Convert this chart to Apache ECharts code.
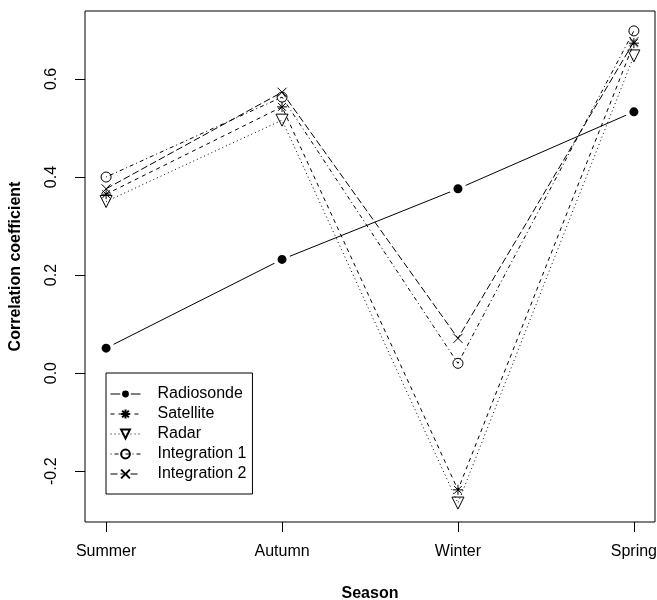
<!DOCTYPE html>
<html>
<head>
<meta charset="utf-8">
<script src="https://cdn.jsdelivr.net/npm/echarts@6/dist/echarts.min.js"></script>
<style>html,body{margin:0;padding:0;background:#fff}#c{width:657px;height:600px}</style>
</head>
<body>
<div id="c"></div>
<script>
const categories = ['Summer', 'Autumn', 'Winter', 'Spring'];
const radiosonde = [0.051, 0.232, 0.376, 0.533];
const satellite = [0.365, 0.543, -0.238, 0.673];
const radar = [0.350, 0.516, -0.265, 0.647];
const integration1 = [0.400, 0.563, 0.020, 0.698];
const integration2 = [0.376, 0.573, 0.071, 0.676];
const yTicks = [-0.2, 0.0, 0.2, 0.4, 0.6];
const xTicks = [1, 2, 3, 4];

const FONT = '"Liberation Sans", Arial, sans-serif';
function pts(arr) { return arr.map((v, i) => [i + 1, v]); }

const seriesDefs = [
  { name: 'Radiosonde', data: radiosonde, dash: 'solid', symbol: 'circle', size: 13, rotate: 0,
    item: { color: '#000', borderColor: '#fff', borderWidth: 4 } },
  { name: 'Satellite', data: satellite, dash: [4, 4], symbol: 'path://M0 0L10 10M10 0L0 10M5 -1.5L5 11.5M-1.5 5L11.5 5', size: 10, rotate: 0,
    item: { color: 'transparent', borderColor: '#000', borderWidth: 1 } },
  { name: 'Radar', data: radar, dash: [1, 3], symbol: 'triangle', size: 12, rotate: 180,
    item: { color: 'transparent', borderColor: '#000', borderWidth: 1 } },
  { name: 'Integration 1', data: integration1, dash: [1, 3, 4, 3], symbol: 'circle', size: 10, rotate: 0,
    item: { color: 'transparent', borderColor: '#000', borderWidth: 1 } },
  { name: 'Integration 2', data: integration2, dash: [7, 3], symbol: 'path://M0 0L10 10M10 0L0 10', size: 9, rotate: 0,
    item: { color: 'transparent', borderColor: '#000', borderWidth: 1 } }
];

const chart = echarts.init(document.getElementById('c'), null, { renderer: 'canvas' });
chart.setOption({
  animation: false,
  backgroundColor: '#fff',
  grid: { left: 85, right: 2, top: 11, bottom: 78, show: true, borderColor: '#000', borderWidth: 1, backgroundColor: 'transparent', containLabel: false, outerBoundsMode: 'none' },
  xAxis: {
    type: 'value', min: 0.88, max: 4.12,
    axisLine: { show: false, onZero: false },
    splitLine: { show: false },
    axisTick: { show: true, length: 10, inside: false, customValues: xTicks, lineStyle: { color: '#000', width: 1 } },
    axisLabel: { customValues: xTicks, formatter: v => categories[Math.round(v) - 1] || '', color: '#000', fontSize: 16, fontFamily: FONT, margin: 22, hideOverlap: false },
    name: 'Season', nameLocation: 'middle', nameGap: 64,
    nameTextStyle: { color: '#000', fontSize: 16, fontWeight: 'bold', fontFamily: FONT }
  },
  yAxis: {
    type: 'value', min: -0.3036, max: 0.7386,
    axisLine: { show: false, onZero: false },
    splitLine: { show: false },
    axisTick: { show: true, length: 10, inside: false, customValues: yTicks, lineStyle: { color: '#000', width: 1 } },
    axisLabel: { customValues: yTicks, rotate: 90, formatter: v => v.toFixed(1), color: '#000', fontSize: 16, fontFamily: FONT, margin: 25 },
    name: 'Correlation coefficient', nameLocation: 'middle', nameGap: 61, nameRotate: 90,
    nameTextStyle: { color: '#000', fontSize: 16, fontWeight: 'bold', fontFamily: FONT }
  },
  legend: {
    orient: 'vertical', left: 106, top: 373,
    padding: [13, 6, 12, 4],
    borderColor: '#000', borderWidth: 1, borderRadius: 0,
    backgroundColor: '#fff',
    itemWidth: 30, itemHeight: 11, itemGap: 4,
    lineStyle: { width: 1 },
    textStyle: { color: '#000', fontSize: 16, fontFamily: FONT, lineHeight: 14, padding: [0, 0, 0, 12] },
    data: seriesDefs.map(s => s.name)
  },
  series: seriesDefs.map(s => ({
    type: 'line', name: s.name, data: pts(s.data),
    symbol: s.symbol, symbolSize: s.size, symbolRotate: s.rotate, showSymbol: true,
    lineStyle: { color: '#000', width: 1, type: s.dash },
    itemStyle: s.item,
    emphasis: { disabled: true }
  }))
});
</script>
</body>
</html>
